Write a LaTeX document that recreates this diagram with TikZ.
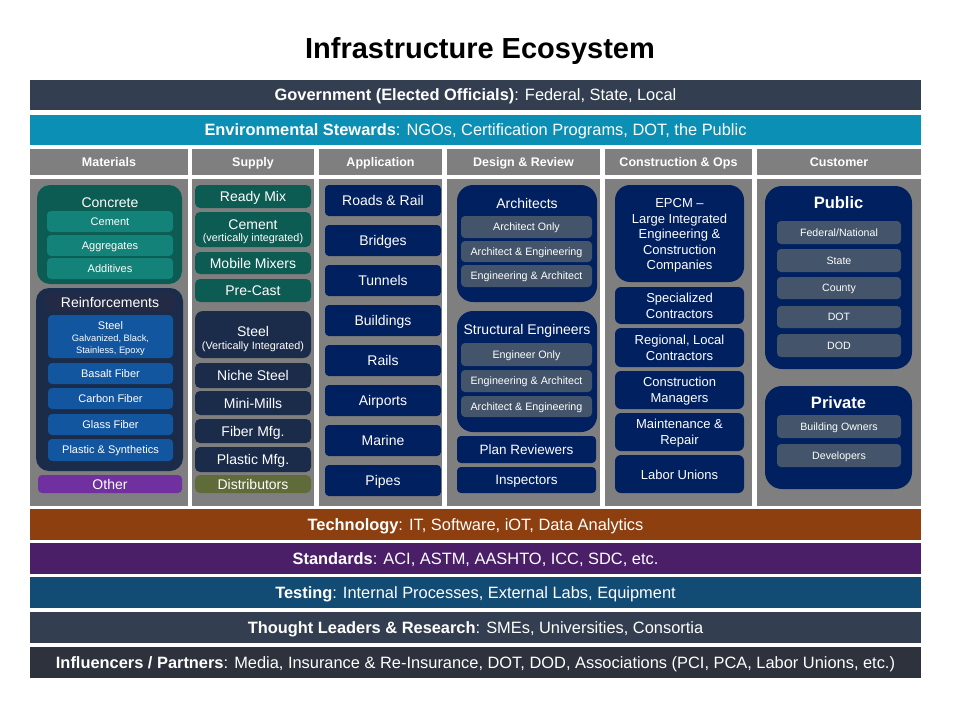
\documentclass[tikz,border=0pt]{standalone}
\usepackage{fontspec}
\setmainfont{Liberation Sans}
\definecolor{cgov}{HTML}{333F50}
\definecolor{cenv}{HTML}{0B8FB4}
\definecolor{ctech}{HTML}{8D3F10}
\definecolor{cstd}{HTML}{4B1F68}
\definecolor{ctest}{HTML}{124B74}
\definecolor{cthink}{HTML}{333F50}
\definecolor{cinfl}{HTML}{2E323D}
\definecolor{cgray}{HTML}{7F7F7F}
\definecolor{cnavy}{HTML}{002060}
\definecolor{cslate}{HTML}{44546A}
\definecolor{ctealD}{HTML}{0D5C53}
\definecolor{ctealL}{HTML}{138278}
\definecolor{cnavyD}{HTML}{1B2C4B}
\definecolor{cnavyT}{HTML}{232A45}
\definecolor{cblue}{HTML}{1356A0}
\definecolor{cpurp}{HTML}{7030A0}
\definecolor{colive}{HTML}{606B3A}
\newcommand\bx[7]{\node[#2, minimum width={(#5-#3)*1pt}, minimum height={(#6-#4)*1pt}] (#1) at ({(#3+#5)/2},{(#4+#6)/2}) {#7};}
\newcommand\fs[2]{\fontsize{#1}{#2}\selectfont}
\tikzset{
  base/.style={inner sep=0pt, outer sep=0pt, text=white, align=center, text depth=0pt},
  band/.style={base, font=\fs{16.4}{19}, text height=11.7pt},
  hdr/.style={base, fill=cgray, font=\fs{12.5}{15}\bfseries, text height=9pt},
  body/.style={base, fill=cgray},
  grp/.style={base, rounded corners=13pt},
  sm/.style={base, rounded corners=4pt},
  ttl/.style={base, font=\fs{14}{16}, text height=10pt},
}
\begin{document}
\begin{tikzpicture}[x=1pt,y=-1pt]
\useasboundingbox[fill=white] (0,0) rectangle (960,720);
\node[base, text=black, font=\fs{29}{32}\bfseries, text height=20.8pt] (title) at (480,48) {Infrastructure Ecosystem};
% top bands
\bx{gov}{band, fill=cgov}{30}{80}{921}{110}{\textbf{Government (Elected Officials)}: Federal, State, Local}
\bx{env}{band, fill=cenv}{30}{115}{921}{145}{\textbf{Environmental Stewards}: NGOs, Certification Programs, DOT, the Public}
% headers
\bx{hmat}{hdr}{30}{149}{188}{175}{Materials}
\bx{hsup}{hdr}{192}{149}{314}{175}{Supply}
\bx{happ}{hdr}{319}{149}{442}{175}{Application}
\bx{hdes}{hdr}{447}{149}{600}{175}{Design \& Review}
\bx{hcon}{hdr}{605}{149}{752}{175}{Construction \& Ops}
\bx{hcus}{hdr}{757}{149}{921}{175}{Customer}
% bodies
\bx{bmat}{body}{30}{179}{188}{506}{}
\bx{bsup}{body}{192}{179}{314}{506}{}
\bx{bapp}{body}{319}{179}{442}{506}{}
\bx{bdes}{body}{447}{179}{600}{506}{}
\bx{bcon}{body}{605}{179}{752}{506}{}
\bx{bcus}{body}{757}{179}{921}{506}{}
% Materials
\bx{concrete}{grp, fill=ctealD}{37}{185}{182}{284}{}
\node[ttl] (concreteT) at (110,202) {Concrete};
\tikzset{mi/.style={sm, font=\fs{11}{13}, text height=7.9pt}}
\bx{m1}{mi, fill=ctealL}{47}{211}{173}{232}{Cement}
\bx{m2}{mi, fill=ctealL}{47}{235}{173}{256}{Aggregates}
\bx{m3}{mi, fill=ctealL}{47}{258}{173}{279}{Additives}
\bx{reinf}{grp, fill=cnavyD}{36}{288}{183}{471}{}
\bx{reinfT}{ttl, fill=cnavyT}{45}{293}{175}{311}{Reinforcements}
\bx{r1}{mi, fill=cblue, font=\fs{9.3}{11.5}, text height=33pt}{48}{315}{173}{358}{{\fs{11}{11.5}Steel}\\[1pt]Galvanized, Black,\\Stainless, Epoxy}
\bx{r2}{mi, fill=cblue}{48}{363}{173}{384}{Basalt Fiber}
\bx{r3}{mi, fill=cblue}{48}{388}{173}{409}{Carbon Fiber}
\bx{r4}{mi, fill=cblue}{48}{414}{173}{435}{Glass Fiber}
\bx{r5}{mi, fill=cblue}{48}{439}{173}{461}{Plastic \& Synthetics}
\bx{other}{sm, fill=cpurp, font=\fs{14}{16}, text height=10pt}{38}{475}{182}{493}{Other}
% Supply
\tikzset{si/.style={sm, rounded corners=5pt, font=\fs{14}{15}, text height=10pt}}
\bx{s1}{si, fill=ctealD}{195}{185}{311}{208}{Ready Mix}
\bx{s2}{si, fill=ctealD, font=\fs{10.8}{12.5}, text height=24pt}{195}{212}{311}{247}{{\fs{14}{12.5}Cement}\\(vertically integrated)}
\bx{s3}{si, fill=ctealD}{195}{252}{311}{274}{Mobile Mixers}
\bx{s4}{si, fill=ctealD}{195}{279}{311}{302}{Pre-Cast}
\bx{s5}{si, fill=cnavyD, rounded corners=8pt, font=\fs{10.8}{12.5}, text height=29pt}{195}{311}{311}{358}{{\fs{14}{12.5}Steel}\\(Vertically Integrated)}
\bx{s6}{si, fill=cnavyD}{195}{363}{311}{388}{Niche Steel}
\bx{s7}{si, fill=cnavyD}{195}{391}{311}{415}{Mini-Mills}
\bx{s8}{si, fill=cnavyD}{195}{419}{311}{443}{Fiber Mfg.}
\bx{s9}{si, fill=cnavyD}{195}{447}{311}{472}{Plastic Mfg.}
\bx{s10}{si, fill=colive}{195}{475}{311}{493}{Distributors}
% Application
\tikzset{ai/.style={sm, fill=cnavy, font=\fs{14}{16}, text height=10pt}}
\bx{a1}{ai}{325}{185}{441}{216}{Roads \& Rail}
\bx{a2}{ai}{325}{225}{441}{256}{Bridges}
\bx{a3}{ai}{325}{265}{441}{296}{Tunnels}
\bx{a4}{ai}{325}{305}{441}{336}{Buildings}
\bx{a5}{ai}{325}{345}{441}{376}{Rails}
\bx{a6}{ai}{325}{385}{441}{416}{Airports}
\bx{a7}{ai}{325}{425}{441}{456}{Marine}
\bx{a8}{ai}{325}{465}{441}{496}{Pipes}
% Design & Review
\tikzset{di/.style={sm, fill=cslate, font=\fs{10.7}{12}, text height=7.7pt}}
\bx{arch}{grp, fill=cnavy, rounded corners=16pt}{457}{185}{597}{302}{}
\node[ttl] (archT) at (527,203) {Architects};
\bx{d1}{di}{461}{216}{592}{238}{Architect Only}
\bx{d2}{di}{461}{241}{592}{262}{Architect \& Engineering}
\bx{d3}{di}{461}{265}{592}{287}{Engineering \& Architect}
\bx{struct}{grp, fill=cnavy, rounded corners=16pt}{457}{311}{597}{432}{}
\node[ttl] (structT) at (527,329) {Structural Engineers};
\bx{d4}{di}{461}{343}{592}{366}{Engineer Only}
\bx{d5}{di}{461}{370}{592}{392}{Engineering \& Architect}
\bx{d6}{di}{461}{396}{592}{417}{Architect \& Engineering}
\bx{plan}{sm, fill=cnavy, font=\fs{13.5}{15}, text height=9.7pt}{457}{436}{596}{463}{Plan Reviewers}
\bx{insp}{sm, fill=cnavy, font=\fs{13.5}{15}, text height=9.7pt}{457}{467}{596}{493}{Inspectors}
% Construction & Ops
\tikzset{ci/.style={sm, rounded corners=6pt, fill=cnavy, font=\fs{13}{15.7}, text height=25pt}}
\bx{epcm}{ci, rounded corners=15pt, font=\fs{13}{15.5}, text height=72pt}{615}{185}{744}{282}{EPCM --\\Large Integrated\\Engineering \&\\Construction\\Companies}
\bx{c1}{ci}{615}{287}{744}{324}{Specialized\\Contractors}
\bx{c2}{ci}{615}{328}{744}{367}{Regional, Local\\Contractors}
\bx{c3}{ci}{615}{371}{744}{409}{Construction\\Managers}
\bx{c4}{ci}{615}{413}{744}{451}{Maintenance \&\\Repair}
\bx{c5}{ci, text height=10.5pt}{615}{455}{744}{493}{Labor Unions}
% Customer
\tikzset{ui/.style={sm, fill=cslate, font=\fs{10.6}{12}, text height=7.6pt}}
\bx{pub}{grp, fill=cnavy, rounded corners=17pt}{765}{186}{912}{369}{}
\node[base, font=\fs{16.5}{18}\bfseries, text height=11.8pt] (pubT) at (838.5,203) {Public};
\bx{u1}{ui}{777}{221}{901}{244}{Federal/National}
\bx{u2}{ui}{777}{249}{901}{272}{State}
\bx{u3}{ui}{777}{277}{901}{299}{County}
\bx{u4}{ui}{777}{306}{901}{328}{DOT}
\bx{u5}{ui}{777}{334}{901}{357}{DOD}
\bx{priv}{grp, fill=cnavy, rounded corners=17pt}{765}{386}{912}{489}{}
\node[base, font=\fs{16.5}{18}\bfseries, text height=11.8pt] (privT) at (838.5,403) {Private};
\bx{u6}{ui}{777}{415}{901}{438}{Building Owners}
\bx{u7}{ui}{777}{444}{901}{467}{Developers}
% bottom bands
\bx{tech}{band, fill=ctech}{30}{509}{921}{540}{\textbf{Technology}: IT, Software, iOT, Data Analytics}
\bx{std}{band, fill=cstd}{30}{543}{921}{574}{\textbf{Standards}: ACI, ASTM, AASHTO, ICC, SDC, etc.}
\bx{test}{band, fill=ctest}{30}{577}{921}{608}{\textbf{Testing}: Internal Processes, External Labs, Equipment}
\bx{think}{band, fill=cthink}{30}{612}{921}{643}{\textbf{Thought Leaders \& Research}: SMEs, Universities, Consortia}
\bx{infl}{band, fill=cinfl}{30}{647}{921}{678}{\textbf{Influencers / Partners}: Media, Insurance \& Re-Insurance, DOT, DOD, Associations (PCI, PCA, Labor Unions, etc.)}
\end{tikzpicture}
\end{document}
